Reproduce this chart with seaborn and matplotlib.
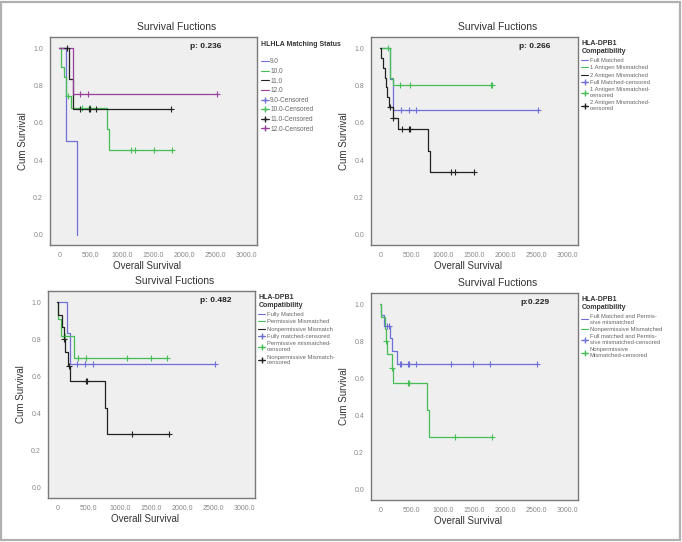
import numpy as np
import pandas as pd
import matplotlib
matplotlib.use("Agg")
import matplotlib.pyplot as plt
import seaborn as sns
from matplotlib.lines import Line2D

sns.set_style("white")
plt.rcParams['font.family'] = ['Liberation Sans', 'DejaVu Sans']

BLUE = "#6f6fd8"
GREEN = "#45bf55"
BLACK = "#222222"
PURPLE = "#9a3f9a"

# ---- data: event times, survival after the event, censor times ----
# panel 1 : HLA matching status
hla9_t = [0, 100, 290]
hla9_s = [1.0, 0.5, 0.0]
hla9_c = []
hla10_t = [0, 27, 80, 112, 187, 769, 800]
hla10_s = [1.0, 0.90, 0.845, 0.745, 0.677, 0.566, 0.455]
hla10_c = [144, 358, 480, 496, 1142, 1212, 1516, 1804]
hla11_t = [0, 160, 214]
hla11_s = [1.0, 0.835, 0.672]
hla11_c = [117, 331, 480, 491, 587, 1783]
hla12_t = [0, 214]
hla12_s = [1.0, 0.755]
hla12_c = [336, 464, 2530]

# panel 2 : antigen mismatches
full_t = [0, 160, 200]
full_s = [1.0, 0.833, 0.667]
full_c = [336, 453, 576, 2527]
ag1_t = [0, 160, 197]
ag1_s = [1.0, 0.84, 0.80]
ag1_c = [123, 320, 469, 1770, 1796]
ag2_t = [0, 11, 37, 69, 91, 112, 133, 197, 277, 768, 800]
ag2_s = [1.0, 0.947, 0.895, 0.842, 0.79, 0.737, 0.684, 0.627, 0.564, 0.45, 0.338]
ag2_c = [149, 205, 352, 453, 474, 1130, 1205, 1498]

# panel 3 : permissive / nonpermissive
fm_t = [0, 160, 197]
fm_s = [1.0, 0.833, 0.667]
fm_c = [320, 443, 571, 2525]
pm_t = [0, 10, 60, 267]
pm_s = [1.0, 0.909, 0.818, 0.70]
pm_c = [123, 336, 454, 1121, 1495, 1761]
npm_t = [0, 11, 80, 112, 123, 176, 197, 763, 790]
npm_s = [1.0, 0.933, 0.867, 0.80, 0.733, 0.655, 0.573, 0.43, 0.287]
npm_c = [112, 192, 459, 475, 1190, 1793]

# panel 4 : (full + permissive) vs nonpermissive
fp_t = [0, 5, 15, 59, 150, 187, 267]
fp_s = [1.0, 0.97, 0.941, 0.882, 0.815, 0.745, 0.678]
fp_c = [112, 144, 310, 337, 444, 455, 567, 1128, 1492, 1765, 2514]
np_t = [0, 5, 70, 96, 112, 187, 203, 754, 781]
np_s = [1.0, 0.933, 0.867, 0.80, 0.733, 0.655, 0.573, 0.43, 0.286]
np_c = [96, 187, 449, 460, 1198, 1792]

p_values = ["p: 0.236", "p: 0.266", "p: 0.482", "p:0.229"]
legend_titles = ["HLHLA Matching Status\n", "HLA-DPB1\nCompatibility",
                 "HLA-DPB1\nCompatibility", "HLA-DPB1\nCompatibility"]
x_ticks = [0, 500, 1000, 1500, 2000, 2500, 3000]
x_labels = ["0", "500.0", "1000.0", "1500.0", "2000.0", "2500.0", "3000.0"]
x_labels4 = [".0", "500.0", "1000.0", "1500.0", "2000.0", "2500.0", "3000.0"]

panels = [
    dict(groups=[(hla9_t, hla9_s, hla9_c, BLUE), (hla10_t, hla10_s, hla10_c, GREEN),
                 (hla11_t, hla11_s, hla11_c, BLACK), (hla12_t, hla12_s, hla12_c, PURPLE)],
         names=["9.0", "10.0", "11.0", "12.0"],
         cnames=["9.0-Censored", "10.0-Censored", "11.0-Censored", "12.0-Censored"],
         pos=[0.0733, 0.548, 0.3035, 0.384], xl=x_labels, px=0.75, fs=4.7),
    dict(groups=[(full_t, full_s, full_c, BLUE), (ag1_t, ag1_s, ag1_c, GREEN),
                 (ag2_t, ag2_s, ag2_c, BLACK)],
         names=["Full Matched", "1 Antigen Mismatched", "2 Antigen Mismatched"],
         cnames=["Full Matched-censored", "1 Antigen Mismatched-\ncensored",
                 "2 Antigen Mismatched-\ncensored"],
         pos=[0.544, 0.548, 0.3035, 0.384], xl=x_labels, px=0.79, fs=4.2),
    dict(groups=[(fm_t, fm_s, fm_c, BLUE), (pm_t, pm_s, pm_c, GREEN),
                 (npm_t, npm_s, npm_c, BLACK)],
         names=["Fully Matched", "Permissive Mismatched", "Nonpermissive Mismatch"],
         cnames=["Fully matched-censored", "Permissive mismatched-\ncensored",
                 "Nonpermissive Mismatch-\ncensored"],
         pos=[0.0704, 0.0812, 0.3035, 0.382], xl=x_labels, px=0.81, fs=4.2),
    dict(groups=[(fp_t, fp_s, fp_c, BLUE), (np_t, np_s, np_c, GREEN)],
         names=["Full Matched and Permis-\nsive mismatched", "Nonpermissive Mismatched"],
         cnames=["Full matched and Permis-\nsive mismatched-censored",
                 "Nonpermissive\nMismatched-censored"],
         pos=[0.544, 0.0775, 0.3035, 0.382], xl=x_labels4, px=0.79, fs=4.2),
]

fig = plt.figure(figsize=(6.82, 5.42), dpi=100)
fig.patches.append(plt.Rectangle((0.002, 0.003), 0.995, 0.994, transform=fig.transFigure,
                                 fill=False, edgecolor="#b0b0b0", linewidth=1.6))

for i, p in enumerate(panels):
    ax = fig.add_axes(p["pos"])
    ax.set_facecolor("#efefef")
    for t, s, c, col in p["groups"]:
        tt, ss = list(t), list(s)
        if c and max(c) > tt[-1]:
            # curve runs on to the last censored case
            tt.append(max(c))
            ss.append(ss[-1])
        df = pd.DataFrame({"time": tt, "surv": ss})
        sns.lineplot(data=df, x="time", y="surv", ax=ax, color=col, linewidth=0.9,
                     drawstyle="steps-post", estimator=None)
        if c:
            idx = np.searchsorted(t, c, side="right") - 1
            cdf = pd.DataFrame({"time": c, "surv": np.array(s)[idx]})
            sns.scatterplot(data=cdf, x="time", y="surv", ax=ax, marker="+", color=col,
                            s=14, linewidth=0.8, zorder=3)
    ax.set_xlim(-150, 3170)
    ax.set_ylim(-0.055, 1.06)
    ax.set_xticks(x_ticks)
    ax.set_xticklabels(p["xl"])
    ax.set_yticks([0, 0.2, 0.4, 0.6, 0.8, 1.0])
    ax.set_yticklabels(["0.0", "0.2", "0.4", "0.6", "0.8", "1.0"])
    ax.tick_params(axis="both", labelsize=5, colors="#888888", length=3, width=0.6,
                   direction="out", pad=2)
    for sp in ax.spines.values():
        sp.set_color("#7a7a7a")
        sp.set_linewidth(1.0)
    ax.set_xlabel("Overall Survival", fontsize=7, color="#333333")
    ax.set_ylabel("Cum Survival", fontsize=7, color="#333333")
    ax.xaxis.set_label_coords(0.47, -0.075)
    ax.yaxis.set_label_coords(-0.105, 0.5)
    ax.set_title("Survival Fuctions", fontsize=7.5, color="#333333", x=0.61, pad=5)
    ax.text(p["px"], 0.955, p_values[i], transform=ax.transAxes, fontsize=6,
            fontweight="bold", color="#222222", ha="center", va="center")

    shown = [g for g in p["groups"] if g[2] or i == 0]
    handles = [Line2D([], [], color=g[3], linewidth=0.8) for g in p["groups"]]
    handles += [Line2D([], [], color=g[3], linewidth=0.8, marker="+", markersize=4)
                for g in shown]
    labels = p["names"] + [n for g, n in zip(p["groups"], p["cnames"]) if g[2] or i == 0]
    leg = ax.legend(handles, labels, title=legend_titles[i], loc="upper left",
                    bbox_to_anchor=(1.0, 1.0), frameon=False, fontsize=p["fs"],
                    title_fontsize=5, labelspacing=0.4, handlelength=1.2,
                    handletextpad=0.2, borderaxespad=0.2, alignment="left")
    leg.get_title().set_fontweight("bold")
    leg.get_title().set_color("#333333")
    for txt in leg.get_texts():
        txt.set_color("#666666")

fig.savefig("out.png", dpi=100)
